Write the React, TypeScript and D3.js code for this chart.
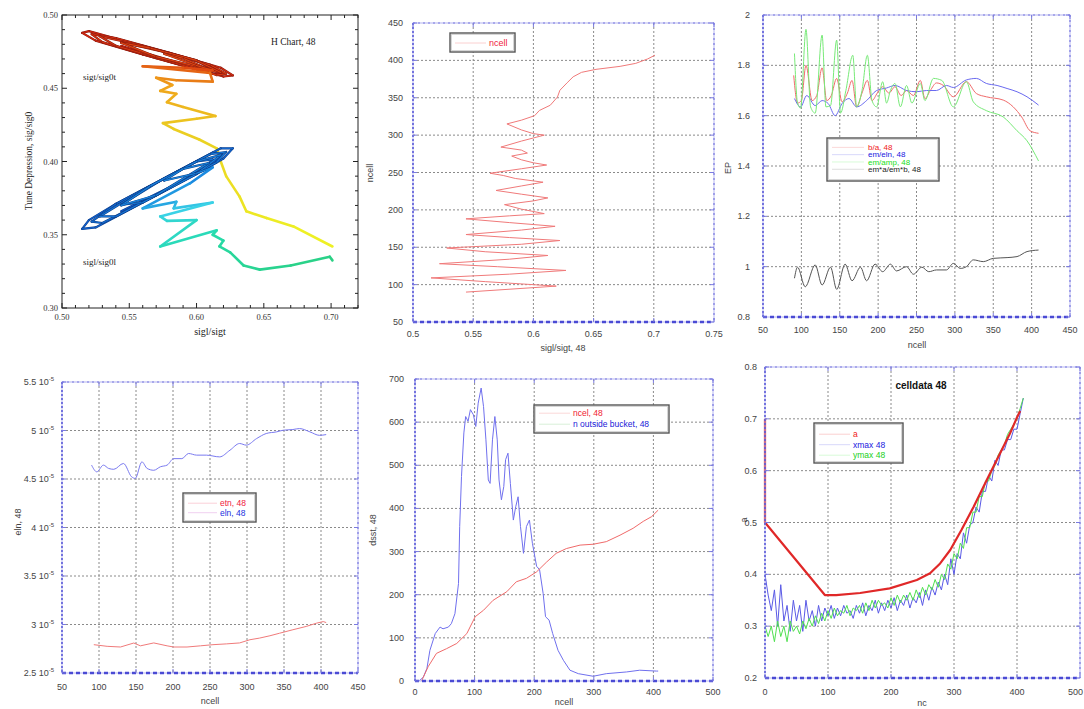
import React from 'react';
import * as d3 from 'd3';

// ---------- Panel 1 : H chart (sigl/sigt vs sig/sig0) ----------
const hTop: [number, number][] = [
  [0.544,0.4790],[0.580,0.4682],[0.612,0.4600],[0.619,0.4605],
  [0.612,0.4650],[0.580,0.4740],[0.540,0.4840],[0.520,0.4890],[0.515,0.4878],
  [0.525,0.4825],[0.560,0.4730],[0.600,0.4630],[0.620,0.4580],[0.627,0.4588],
  [0.618,0.4640],[0.580,0.4742],[0.540,0.4842],[0.522,0.4870],
  [0.530,0.4815],[0.570,0.4705],[0.605,0.4615],[0.612,0.4625],
  [0.600,0.4690],[0.560,0.4790],[0.528,0.4855],
  [0.540,0.4790],[0.580,0.4685],[0.615,0.4590],[0.622,0.4600],
  [0.610,0.4660],[0.575,0.4750],[0.544,0.4815],
  [0.560,0.4745],[0.600,0.4640],[0.618,0.4608],
  [0.600,0.4690],[0.565,0.4775],[0.544,0.4810],
  [0.570,0.4715],[0.609,0.4630],
  [0.590,0.4705],[0.576,0.4735],
  [0.600,0.4655],[0.612,0.4622],
  [0.590,0.4640],[0.560,0.4650],[0.610,0.4605],[0.612,0.4545],[0.585,0.4555],[0.570,0.4572],[0.582,0.4522],[0.573,0.4482],
  [0.585,0.4462],[0.578,0.4405],[0.590,0.4372],[0.614,0.4310],[0.600,0.4292],[0.575,0.4262],[0.583,0.4222],[0.602,0.4150],
  [0.615,0.4090],[0.618,0.4000],[0.622,0.3900],[0.632,0.3760],[0.637,0.3660],[0.652,0.3614],[0.672,0.3557],[0.701,0.3420],
];
const hLow: [number, number][] = [
  [0.544,0.3660],[0.580,0.3825],[0.612,0.3985],[0.619,0.4050],
  [0.612,0.4060],[0.580,0.3905],[0.540,0.3710],[0.520,0.3600],[0.515,0.3540],
  [0.525,0.3550],[0.560,0.3720],[0.600,0.3915],[0.620,0.4020],[0.627,0.4090],
  [0.618,0.4090],[0.580,0.3905],[0.540,0.3710],[0.522,0.3590],
  [0.530,0.3580],[0.570,0.3770],[0.605,0.3945],[0.612,0.4015],
  [0.600,0.4000],[0.560,0.3805],[0.528,0.3625],
  [0.540,0.3625],[0.580,0.3820],[0.615,0.3995],[0.622,0.4065],
  [0.610,0.4050],[0.575,0.3880],[0.544,0.3705],
  [0.560,0.3720],[0.600,0.3915],[0.618,0.4045],
  [0.600,0.4000],[0.565,0.3830],[0.544,0.3700],
  [0.570,0.3770],[0.609,0.3990],
  [0.590,0.3950],[0.576,0.3870],
  [0.600,0.3920],[0.612,0.3960],
  [0.595,0.3850],[0.560,0.3680],[0.585,0.3725],[0.583,0.3680],[0.612,0.3720],[0.573,0.3625],[0.578,0.3595],[0.600,0.3600],
  [0.573,0.3420],[0.615,0.3530],[0.612,0.3500],[0.620,0.3460],[0.617,0.3420],[0.625,0.3380],[0.635,0.3290],[0.647,0.3262],
  [0.670,0.3290],[0.699,0.3350],[0.701,0.3325],
];
const hLoopCount = 44;
const hXTicks = [0.5, 0.55, 0.6, 0.65, 0.7];
const hYTicks = [0.3, 0.35, 0.4, 0.45, 0.5];

// ---------- Panel 2 : ncell vs sigl/sigt ----------
const p2Curve: [number, number][] = [
  [90,0.544],[98,0.619],[104,0.560],[109,0.515],[114,0.580],[119,0.627],[124,0.570],[128,0.522],[134,0.580],[139,0.612],
  [144,0.560],[149,0.528],[154,0.590],[159,0.622],[163,0.580],[167,0.544],[173,0.590],[178,0.618],[183,0.580],[188,0.544],
  [192,0.580],[195,0.609],[201,0.590],[207,0.576],[212,0.600],[216,0.612],[221,0.590],[226,0.569],[232,0.590],[237,0.608],
  [242,0.585],[246,0.575],[249,0.564],[255,0.590],[260,0.611],[263,0.600],[267,0.590],[272,0.582],[276,0.595],[280,0.590],
  [284,0.573],[292,0.590],[300,0.609],[302,0.600],[307,0.590],[315,0.578],[320,0.590],[326,0.601],[333,0.605],[340,0.614],
  [351,0.620],[360,0.622],[370,0.628],[378,0.633],[384,0.640],[388,0.652],[392,0.672],[396,0.685],[402,0.695],[407,0.701],
];
const p2XTicks = [0.5, 0.55, 0.6, 0.65, 0.7, 0.75];
const p2YTicks = [50, 100, 150, 200, 250, 300, 350, 400, 450];

// ---------- Panel 3 : EP vs ncell ----------
const epRed: [number, number][] = [
  [90,1.76],[95,1.65],[100,1.66],[106,1.80],[114,1.66],[120,1.68],[127,1.79],[133,1.66],[139,1.68],[146,1.748],[153,1.655],
  [160,1.69],[166,1.74],[172,1.635],[179,1.69],[186,1.74],[192,1.66],[199,1.69],[206,1.715],[214,1.69],[222,1.715],[230,1.68],
  [237,1.70],[246,1.68],[255,1.74],[261,1.668],[268,1.70],[276,1.73],[285,1.72],[298,1.675],[315,1.735],[328,1.688],[341,1.675],
  [363,1.662],[376,1.635],[387,1.595],[398,1.54],[409,1.53],
];
const epBlue: [number, number][] = [
  [91,1.668],[99,1.635],[107,1.68],[118,1.64],[127,1.66],[135,1.648],[144,1.60],[153,1.648],[162,1.668],[172,1.635],[185,1.66],
  [198,1.70],[211,1.71],[222,1.72],[237,1.70],[250,1.695],[263,1.70],[276,1.70],[289,1.72],[298,1.712],[315,1.742],[328,1.748],
  [341,1.728],[355,1.72],[368,1.708],[381,1.695],[394,1.675],[409,1.642],
];
const epGreen: [number, number][] = [
  [91,1.847],[95,1.65],[99,1.63],[106,1.943],[112,1.635],[118,1.61],[127,1.92],[132,1.635],[138,1.64],[146,1.90],[151,1.61],
  [158,1.70],[167,1.84],[172,1.635],[179,1.70],[186,1.84],[192,1.66],[198,1.635],[206,1.735],[211,1.65],[216,1.70],[222,1.728],
  [229,1.635],[237,1.72],[244,1.65],[255,1.728],[261,1.66],[272,1.748],[283,1.74],[298,1.635],[315,1.735],[324,1.655],[341,1.62],
  [363,1.595],[381,1.54],[394,1.50],[409,1.42],
];
const epBlack: [number, number][] = [
  [91,0.954],[95,0.998],[105,0.92],[118,1.007],[127,0.927],[138,0.998],[146,0.91],[157,1.01],[166,0.944],[177,0.998],[185,0.944],
  [196,1.01],[206,0.98],[216,1.01],[224,0.983],[237,1.0],[246,0.97],[257,0.998],[266,0.98],[276,0.987],[289,0.987],[298,1.013],
  [307,0.993],[315,1.0],[324,1.027],[337,1.02],[350,1.033],[368,1.036],[381,1.04],[394,1.06],[409,1.066],
];
const ncellTicks = [50, 100, 150, 200, 250, 300, 350, 400, 450];
const epYTicks = [0.8, 1, 1.2, 1.4, 1.6, 1.8, 2];

// ---------- Panel 4 : eln vs ncell (units of 1e-5) ----------
const elnBlue: [number, number][] = [
  [90,4.643],[97,4.574],[106,4.643],[113,4.609],[120,4.60],[133,4.66],[144,4.523],[149,4.506],[158,4.677],[165,4.609],[174,4.59],
  [183,4.626],[192,4.643],[201,4.71],[212,4.71],[221,4.763],[232,4.746],[245,4.746],[263,4.728],[277,4.797],[290,4.866],
  [299,4.849],[313,4.917],[326,4.969],[340,4.986],[349,5.003],[362,5.01],[371,5.02],[385,4.986],[398,4.95],[407,4.958],
];
const etnRed: [number, number][] = [
  [93,2.792],[111,2.775],[129,2.768],[147,2.809],[156,2.78],[174,2.81],[192,2.78],[201,2.768],[219,2.768],[237,2.78],[254,2.792],
  [272,2.80],[290,2.81],[304,2.843],[317,2.86],[331,2.884],[344,2.91],[362,2.946],[380,2.98],[394,3.014],[403,3.03],[407,3.02],
];
const elnYTicks = [2.5, 3, 3.5, 4, 4.5, 5, 5.5];

// ---------- Panel 5 : dsst vs ncell ----------
const outsideBlue: [number, number][] = [
  [0,0],[8,1.5],[14,9],[20,29],[25,71],[34,110],[42,125],[47,121],[56,125],[61,133],[67,156],[73,226],[75,358],[78,474],
  [82,575],[85,613],[89,602],[93,629],[98,617],[102,590],[106,644],[111,679],[115,636],[119,559],[123,466],[126,458],[130,559],
  [134,613],[138,559],[141,466],[145,420],[149,451],[152,513],[156,528],[160,458],[165,373],[169,404],[173,427],[177,358],
  [182,296],[187,358],[192,373],[197,319],[204,266],[209,258],[215,203],[219,149],[225,141],[231,110],[240,71],[249,48],
  [260,25],[274,17],[299,11],[321,17],[355,21],[377,25],[405,23],[408,23],
];
const ncelRed: [number, number][] = [
  [11,0],[22,33],[36,64],[53,75],[70,87],[87,110],[101,149],[115,164],[131,187],[154,207],[170,230],[187,238],[204,253],
  [221,276],[237,296],[254,307],[277,315],[299,317],[321,323],[344,338],[366,354],[383,370],[397,381],[408,396],
];
const ncTicks = [0, 100, 200, 300, 400, 500];
const dsstYTicks = [0, 100, 200, 300, 400, 500, 600, 700];

// ---------- Panel 6 : celldata 48 ----------
const aRed: [number, number][] = [
  [0,0.70],[0,0.50],[95,0.36],[113,0.36],[151,0.364],[198,0.373],[241,0.389],[262,0.402],[278,0.421],[294,0.447],[312,0.486],
  [331,0.53],[352,0.582],[373,0.633],[389,0.672],[399,0.70],[405,0.715],
];
const ncSample = d3.range(0, 415, 5);
const xmaxBlue = [
  0.40,0.36,0.33,0.37,0.30,0.38,0.31,0.34,0.29,0.35,0.31,0.34,0.29,0.35,0.31,0.33,0.30,0.34,0.31,0.335,
  0.32,0.34,0.315,0.335,0.32,0.34,0.325,0.33,0.315,0.34,0.325,0.345,0.32,0.34,0.33,0.35,0.325,0.345,0.33,0.35,
  0.335,0.355,0.33,0.35,0.34,0.36,0.335,0.355,0.345,0.365,0.34,0.37,0.35,0.375,0.36,0.385,0.37,0.40,0.38,0.43,
  0.40,0.44,0.43,0.48,0.46,0.495,0.50,0.53,0.52,0.56,0.56,0.59,0.58,0.62,0.61,0.64,0.64,0.66,0.66,0.68,
  0.68,0.71,0.74,
];
const ymaxGreen = [
  0.30,0.28,0.30,0.27,0.31,0.28,0.30,0.27,0.31,0.29,0.30,0.285,0.31,0.295,0.315,0.30,0.32,0.305,0.325,0.31,
  0.33,0.315,0.335,0.32,0.33,0.325,0.34,0.32,0.335,0.33,0.34,0.325,0.345,0.33,0.35,0.335,0.35,0.34,0.345,0.335,
  0.355,0.34,0.36,0.345,0.36,0.35,0.365,0.35,0.37,0.355,0.375,0.36,0.38,0.37,0.39,0.375,0.40,0.39,0.42,0.41,
  0.44,0.43,0.46,0.45,0.49,0.49,0.52,0.52,0.55,0.55,0.58,0.58,0.60,0.61,0.63,0.64,0.65,0.67,0.68,0.69,
  0.70,0.72,0.74,
];
const aYTicks = [0.2, 0.3, 0.4, 0.5, 0.6, 0.7, 0.8];

// ----------------------------------------------------------------
const SANS = "'Liberation Sans', Arial, Helvetica, sans-serif";
const SERIF = "'Liberation Serif', 'Times New Roman', serif";

type Series = { pts: [number, number][]; color: string; width: number; smooth?: boolean };
type LegendItem = { label: string; color: string; line: string };
type Legend = { x: number; y: number; w: number; h: number; textX: number; firstY: number; rowH: number; lineX0: number; lineX1: number; fs: number; items: LegendItem[] };

type PanelCfg = {
  x0: number; x1: number; y0: number; y1: number;
  xd: [number, number]; yd: [number, number];
  xTicks: number[]; yTicks: number[];
  xFmt: (v: number) => React.ReactNode; yFmt: (v: number) => React.ReactNode;
  xTickY: number; yTickX: number;
  xLabel: string; xLabelPos: [number, number];
  yLabel: string; yLabelPos: [number, number];
  series: Series[];
  legend?: Legend;
  title?: { text: string; x: number; y: number };
};

function GridPanel({ cfg }: { cfg: PanelCfg }) {
  const xs = d3.scaleLinear().domain(cfg.xd).range([cfg.x0, cfg.x1]);
  const ys = d3.scaleLinear().domain(cfg.yd).range([cfg.y1, cfg.y0]);
  const { x0, x1, y0, y1 } = cfg;
  const frameCol = '#7a7ae0';
  const lg = cfg.legend;
  return (
    <g>
      {cfg.xTicks.filter(v => v > cfg.xd[0] && v < cfg.xd[1]).map(v => (
        <line key={'gx' + v} x1={xs(v)} x2={xs(v)} y1={y0} y2={y1} stroke="#8a8a8a" strokeWidth={1} strokeDasharray="2,2" />
      ))}
      {cfg.yTicks.filter(v => v > cfg.yd[0] && v < cfg.yd[1]).map(v => (
        <line key={'gy' + v} x1={x0} x2={x1} y1={ys(v)} y2={ys(v)} stroke="#8a8a8a" strokeWidth={1} strokeDasharray="2,2" />
      ))}
      {cfg.series.map((s, i) => {
        const line = d3.line<[number, number]>().x(d => xs(d[0])).y(d => ys(d[1]))
          .curve(s.smooth ? d3.curveMonotoneX : d3.curveLinear);
        return <path key={'s' + i} d={line(s.pts) || ''} fill="none" stroke={s.color} strokeWidth={s.width} strokeLinejoin="round" />;
      })}
      <rect x={x0} y={y0} width={x1 - x0} height={y1 - y0} fill="none" stroke="#b4b4f0" strokeWidth={1} />
      <line x1={x0} x2={x1} y1={y0} y2={y0} stroke={frameCol} strokeWidth={1.2} strokeDasharray="2,3" />
      <line x1={x1} x2={x1} y1={y0} y2={y1} stroke={frameCol} strokeWidth={1.2} strokeDasharray="2,3" />
      <line x1={x0} x2={x0} y1={y0} y2={y1} stroke="#5a5ad8" strokeWidth={1.6} strokeDasharray="2,2" />
      <line x1={x0} x2={x1} y1={y1} y2={y1} stroke="#4a4ad4" strokeWidth={2.6} strokeDasharray="4,3" />
      {cfg.xTicks.map(v => (
        <g key={'tx' + v}>
          <line x1={xs(v)} x2={xs(v)} y1={y1} y2={y1 - 4} stroke={frameCol} />
          <line x1={xs(v)} x2={xs(v)} y1={y0} y2={y0 + 4} stroke={frameCol} />
        </g>
      ))}
      {cfg.yTicks.map(v => (
        <g key={'ty' + v}>
          <line x1={x0} x2={x0 + 4} y1={ys(v)} y2={ys(v)} stroke={frameCol} />
          <line x1={x1} x2={x1 - 4} y1={ys(v)} y2={ys(v)} stroke={frameCol} />
        </g>
      ))}
      {cfg.xTicks.map(v => {
        const px = xs(v);
        const atEdge = px + 9 > 1084;
        return (
          <text key={'lx' + v} x={atEdge ? 1083 : px} y={cfg.xTickY} textAnchor={atEdge ? 'end' : 'middle'} fontSize={9} fill="#444" fontFamily={SANS}>{cfg.xFmt(v)}</text>
        );
      })}
      {cfg.yTicks.map(v => (
        <text key={'ly' + v} x={cfg.yTickX} y={ys(v) + 3} textAnchor="end" fontSize={9} fill="#444" fontFamily={SANS}>{cfg.yFmt(v)}</text>
      ))}
      <text x={cfg.xLabelPos[0]} y={cfg.xLabelPos[1]} textAnchor="middle" fontSize={9} fill="#444" fontFamily={SANS}>{cfg.xLabel}</text>
      <text transform={`translate(${cfg.yLabelPos[0]},${cfg.yLabelPos[1]}) rotate(-90)`} textAnchor="middle" fontSize={9} fill="#444" fontFamily={SANS}>{cfg.yLabel}</text>
      {cfg.title && (
        <text x={cfg.title.x} y={cfg.title.y} textAnchor="middle" fontSize={10} fontWeight="bold" fill="#111" fontFamily={SANS}>{cfg.title.text}</text>
      )}
      {lg && (
        <g>
          <rect x={lg.x} y={lg.y} width={lg.w} height={lg.h} fill="#fff" stroke="#555" strokeWidth={1.4} />
          <rect x={lg.x + 1.5} y={lg.y + 1.5} width={lg.w - 3} height={lg.h - 3} fill="none" stroke="#ccc" strokeWidth={0.8} />
          {lg.items.map((it, i) => (
            <g key={'lg' + i}>
              <line x1={lg.lineX0} x2={lg.lineX1} y1={lg.firstY + i * lg.rowH - lg.fs * 0.33} y2={lg.firstY + i * lg.rowH - lg.fs * 0.33} stroke={it.line} strokeWidth={1} />
              <text x={lg.textX} y={lg.firstY + i * lg.rowH} fontSize={lg.fs} fill={it.color} fontFamily={SANS}>{it.label}</text>
            </g>
          ))}
        </g>
      )}
    </g>
  );
}

function HChart() {
  const x0 = 62, x1 = 358, y0 = 15, y1 = 308;
  const xs = d3.scaleLinear().domain([0.5, 0.72]).range([x0, x1]);
  const ys = d3.scaleLinear().domain([0.3, 0.5]).range([y1, y0]);
  const L = hLoopCount;
  const topCol = d3.scaleLinear<string>().domain([0, L - 1, L + 6, L + 15, hTop.length - 2])
    .range(['#cc2010', '#e04a12', '#f0a41a', '#ead322', '#eef024']);
  const lowCol = d3.scaleLinear<string>().domain([0, L - 1, L + 4, L + 9, hLow.length - 2])
    .range(['#1258c8', '#1a8ae0', '#3ad2e6', '#26dcae', '#2ad084']);
  const segs = (pts: [number, number][], col: (i: number) => string, outline: string) =>
    pts.slice(0, -1).map((p, i) => {
      const q = pts[i + 1];
      const thin = i < L - 1;
      return (
        <g key={i}>
          {thin && <line x1={xs(p[0])} y1={ys(p[1])} x2={xs(q[0])} y2={ys(q[1])} stroke={outline} strokeWidth={2.2} strokeLinecap="round" />}
          <line x1={xs(p[0])} y1={ys(p[1])} x2={xs(q[0])} y2={ys(q[1])}
            stroke={col(i)} strokeWidth={thin ? 1.2 : 2.6} strokeLinecap="round" />
        </g>
      );
    });
  const xMinor = d3.range(0.5, 0.7201, 0.01);
  const yMinor = d3.range(0.3, 0.5001, 0.01);
  return (
    <g>
      {segs(hTop, topCol, '#8a1a10')}
      {segs(hLow, lowCol, '#0e3f8a')}
      <rect x={x0} y={y0} width={x1 - x0} height={y1 - y0} fill="none" stroke="#222" strokeWidth={1} />
      {xMinor.map((v, i) => {
        const len = i % 5 === 0 ? 5 : 3;
        return (
          <g key={'mx' + i}>
            <line x1={xs(v)} x2={xs(v)} y1={y1} y2={y1 - len} stroke="#222" />
            <line x1={xs(v)} x2={xs(v)} y1={y0} y2={y0 + len} stroke="#222" />
          </g>
        );
      })}
      {yMinor.map((v, i) => {
        const len = i % 5 === 0 ? 5 : 3;
        return (
          <g key={'my' + i}>
            <line x1={x0} x2={x0 + len} y1={ys(v)} y2={ys(v)} stroke="#222" />
            <line x1={x1} x2={x1 - len} y1={ys(v)} y2={ys(v)} stroke="#222" />
          </g>
        );
      })}
      {hXTicks.map(v => (
        <text key={'hx' + v} x={xs(v)} y={320} textAnchor="middle" fontSize={8.5} fill="#333" fontFamily={SERIF}>{v.toFixed(2)}</text>
      ))}
      {hYTicks.map(v => (
        <text key={'hy' + v} x={58} y={ys(v) + 3} textAnchor="end" fontSize={8.5} fill="#333" fontFamily={SERIF}>{v.toFixed(2)}</text>
      ))}
      <text x={210} y={335} textAnchor="middle" fontSize={10} fill="#222" fontFamily={SERIF}>sigl/sigt</text>
      <text transform="translate(32,161) rotate(-90)" textAnchor="middle" fontSize={9.5} fill="#222" fontFamily={SERIF}>Tune Depression, sig/sig0</text>
      <text x={271} y={45} fontSize={9.5} fill="#222" fontFamily={SERIF}>H Chart, 48</text>
      <text x={83} y={80} fontSize={9} fill="#222" fontFamily={SERIF}>sigt/sig0t</text>
      <text x={83} y={265} fontSize={9} fill="#222" fontFamily={SERIF}>sigl/sig0l</text>
    </g>
  );
}

const num = (v: number) => String(v);
const sci = (v: number) => (
  <>{String(v)} 10<tspan fontSize={6} dy={-4}>-5</tspan></>
);

const panels: PanelCfg[] = [
  {
    x0: 413, x1: 714, y0: 23, y1: 322, xd: [0.5, 0.75], yd: [50, 450],
    xTicks: p2XTicks, yTicks: p2YTicks, xFmt: num, yFmt: num, xTickY: 337, yTickX: 403,
    xLabel: 'sigl/sigt, 48', xLabelPos: [563, 351], yLabel: 'ncell', yLabelPos: [373, 173],
    series: [{ pts: p2Curve.map(d => [d[1], d[0]] as [number, number]), color: '#f07a7a', width: 1 }],
    legend: { x: 450, y: 33, w: 65, h: 19, textX: 489, firstY: 46, rowH: 10, lineX0: 455, lineX1: 486, fs: 9,
      items: [{ label: 'ncell', color: '#f02040', line: '#fbd0d0' }] },
  },
  {
    x0: 763, x1: 1070, y0: 15, y1: 317, xd: [50, 450], yd: [0.8, 2],
    xTicks: ncellTicks, yTicks: epYTicks, xFmt: num, yFmt: num, xTickY: 333, yTickX: 750,
    xLabel: 'ncell', xLabelPos: [917, 348], yLabel: 'EP', yLabelPos: [731, 168],
    series: [
      { pts: epRed, color: '#f06a6a', width: 1, smooth: true },
      { pts: epBlue, color: '#6a6af0', width: 1, smooth: true },
      { pts: epGreen, color: '#78ea78', width: 1, smooth: true },
      { pts: epBlack, color: '#555', width: 1, smooth: true },
    ],
    legend: { x: 827, y: 138, w: 112, h: 43, textX: 868, firstY: 150, rowH: 7.3, lineX0: 832, lineX1: 864, fs: 8,
      items: [
        { label: 'b/a, 48', color: '#f02020', line: '#fbd8d8' },
        { label: 'em/eln, 48', color: '#2020e0', line: '#d8d8fb' },
        { label: 'em/amp, 48', color: '#20e020', line: '#d8fbd8' },
        { label: 'em*a/em*b, 48', color: '#222', line: '#ddd' },
      ] },
  },
  {
    x0: 62, x1: 358, y0: 382, y1: 673, xd: [50, 450], yd: [2.5, 5.5],
    xTicks: ncellTicks, yTicks: elnYTicks, xFmt: num, yFmt: sci, xTickY: 690, yTickX: 54,
    xLabel: 'ncell', xLabelPos: [210, 704], yLabel: 'eln, 48', yLabelPos: [21, 522],
    series: [
      { pts: etnRed, color: '#f07a7a', width: 1 },
      { pts: elnBlue, color: '#7a7af0', width: 1, smooth: true },
    ],
    legend: { x: 183, y: 493, w: 73, h: 29, textX: 220, firstY: 506, rowH: 9.5, lineX0: 188, lineX1: 217, fs: 8.5,
      items: [
        { label: 'etn, 48', color: '#f02040', line: '#fbd0d8' },
        { label: 'eln, 48', color: '#2030e0', line: '#f0d0f0' },
      ] },
  },
  {
    x0: 415, x1: 713, y0: 379, y1: 681, xd: [0, 500], yd: [0, 700],
    xTicks: ncTicks, yTicks: dsstYTicks, xFmt: num, yFmt: num, xTickY: 695, yTickX: 404,
    xLabel: 'ncell', xLabelPos: [564, 705], yLabel: 'dsst, 48', yLabelPos: [376, 530],
    series: [
      { pts: outsideBlue, color: '#7070ee', width: 1 },
      { pts: ncelRed, color: '#f06a6a', width: 1 },
    ],
    legend: { x: 534, y: 405, w: 135, h: 28, textX: 573, firstY: 416, rowH: 11, lineX0: 539, lineX1: 570, fs: 8.5,
      items: [
        { label: 'ncel, 48', color: '#f02030', line: '#fbd8d8' },
        { label: 'n outside bucket, 48', color: '#2020d8', line: '#d8f0d8' },
      ] },
  },
  {
    x0: 765, x1: 1080, y0: 367, y1: 678, xd: [0, 500], yd: [0.2, 0.8],
    xTicks: ncTicks, yTicks: aYTicks, xFmt: num, yFmt: num, xTickY: 695, yTickX: 757,
    xLabel: 'nc', xLabelPos: [922, 706], yLabel: 'a', yLabelPos: [747, 520],
    series: [
      { pts: ncSample.map((n, i) => [n, xmaxBlue[i]] as [number, number]), color: '#5a5ae6', width: 1 },
      { pts: ncSample.map((n, i) => [n, ymaxGreen[i]] as [number, number]), color: '#50e050', width: 1 },
      { pts: aRed, color: '#e02828', width: 2.2 },
    ],
    title: { text: 'celldata 48', x: 921, y: 389 },
    legend: { x: 814, y: 423, w: 89, h: 40, textX: 853, firstY: 437, rowH: 10.5, lineX0: 819, lineX1: 850, fs: 8.5,
      items: [
        { label: 'a', color: '#f02020', line: '#fbd0d0' },
        { label: 'xmax 48', color: '#2020e0', line: '#d8d8fb' },
        { label: 'ymax 48', color: '#20d020', line: '#d8fbd8' },
      ] },
  },
];

export default function App() {
  return (
    <svg width={1084} height={709} style={{ position: 'absolute', left: 0, top: 0, background: '#fff' }}>
      <rect x={0} y={0} width={1084} height={709} fill="#fff" />
      <HChart />
      {panels.map((p, i) => <GridPanel key={i} cfg={p} />)}
    </svg>
  );
}
